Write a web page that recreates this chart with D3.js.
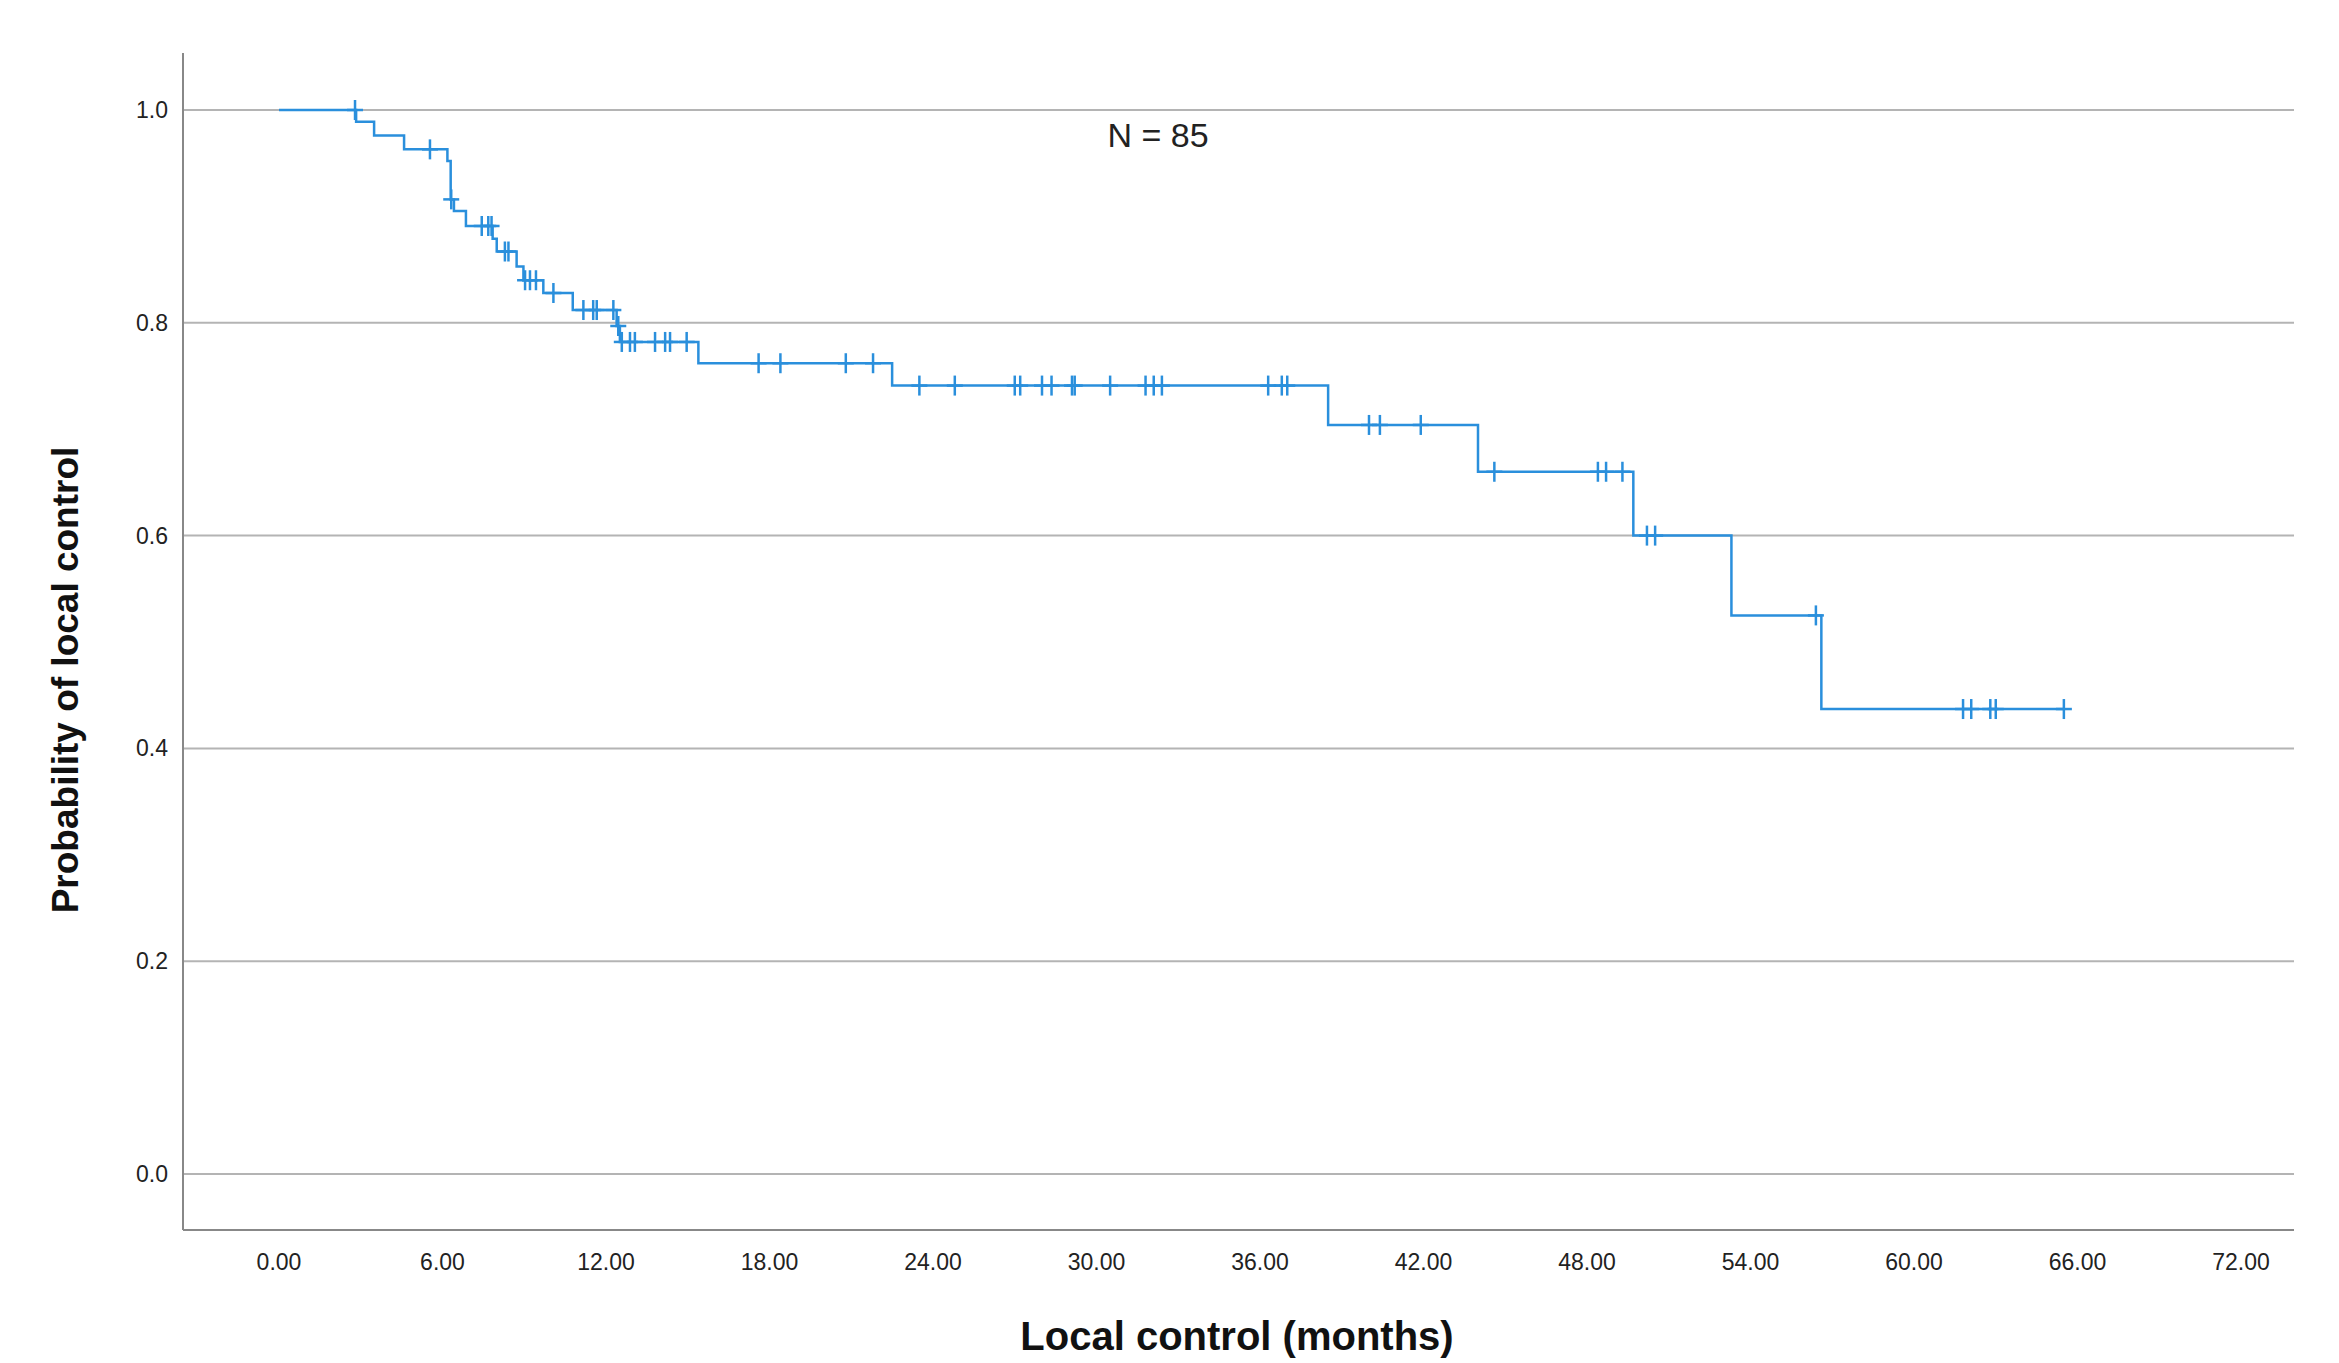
<!DOCTYPE html>
<html>
<head>
<meta charset="utf-8">
<script src="https://cdn.jsdelivr.net/npm/d3@7"></script>
<style>
  body { margin: 0; background: #fff; }
  text { font-family: "Liberation Sans Narrow", "Liberation Sans", Arial, sans-serif; }
</style>
</head>
<body>
<div id="chart"></div>
<script>
// step drops: time (months) and survival after drop
const dropTimes = [2.83, 3.49, 4.59, 6.18, 6.30, 6.42, 6.86, 7.84, 7.99, 8.72, 8.97, 9.70, 10.78, 12.39, 12.51, 15.39,
  22.5, 38.5, 44.0, 49.7, 53.3, 56.6];
const dropValues = [0.989, 0.976, 0.963, 0.952, 0.916, 0.905, 0.891, 0.879, 0.867, 0.853, 0.840, 0.828, 0.812, 0.797, 0.782, 0.762,
  0.741, 0.704, 0.660, 0.600, 0.525, 0.437];
const censorTimes = [2.79, 5.54, 6.32, 7.44, 7.68, 7.80, 8.29, 8.42, 9.03, 9.21, 9.43, 10.07, 11.17, 11.53, 11.66, 12.27,
  12.45, 12.58, 12.88, 13.06, 13.80, 14.17, 14.35, 14.96, 17.6, 18.4, 20.8, 21.8, 23.5, 24.8, 27.0, 27.2, 28.0, 28.35,
  29.1, 29.2, 30.5, 31.8, 32.1, 32.4, 36.3, 36.8, 37.0, 40.0, 40.4, 41.9, 44.6, 48.4, 48.7, 49.3, 50.2, 50.5, 56.4,
  61.8, 62.1, 62.8, 63.0, 65.5];
const endTime = 65.5;
const xTicks = [0, 6, 12, 18, 24, 30, 36, 42, 48, 54, 60, 66, 72];
const yTicks = [0, 0.2, 0.4, 0.6, 0.8, 1.0];

const W = 2339, H = 1363;
const svg = d3.select('#chart').append('svg').attr('width', W).attr('height', H);

const x = d3.scaleLinear().domain([0, 72]).range([279, 2241]);
const y = d3.scaleLinear().domain([0, 1]).range([1174, 110]);
const frameL = 183, frameR = 2294, frameT = 53, frameB = 1230;

const surv = (t) => {
  let v = 1;
  dropTimes.forEach((d, i) => { if (d <= t) v = dropValues[i]; });
  return v;
};

// grid lines
svg.selectAll('.grid').data(yTicks).enter().append('line')
  .attr('x1', frameL).attr('x2', frameR)
  .attr('y1', (d) => y(d)).attr('y2', (d) => y(d))
  .attr('stroke', '#b4b4b4').attr('stroke-width', 2);

// axes frame
svg.append('line').attr('x1', frameL).attr('x2', frameL).attr('y1', frameT).attr('y2', frameB)
  .attr('stroke', '#888').attr('stroke-width', 2);
svg.append('line').attr('x1', frameL).attr('x2', frameR).attr('y1', frameB).attr('y2', frameB)
  .attr('stroke', '#888').attr('stroke-width', 2);

svg.selectAll('.ylab').data(yTicks).enter().append('text')
  .attr('x', 168).attr('y', (d) => y(d) + 8)
  .attr('text-anchor', 'end').attr('font-size', 23).attr('fill', '#222')
  .text((d) => d.toFixed(1));

svg.selectAll('.xlab').data(xTicks).enter().append('text')
  .attr('x', (d) => x(d)).attr('y', 1270)
  .attr('text-anchor', 'middle').attr('font-size', 23).attr('fill', '#222')
  .text((d) => d.toFixed(2));

svg.append('text').attr('x', 1237).attr('y', 1350).attr('text-anchor', 'middle')
  .attr('font-size', 40).attr('font-weight', 'bold').attr('fill', '#111')
  .attr('font-family', '"Liberation Sans", Arial, sans-serif')
  .text('Local control (months)');

svg.append('text').attr('transform', 'translate(78,680) rotate(-90)').attr('text-anchor', 'middle')
  .attr('font-size', 37).attr('font-weight', 'bold').attr('fill', '#111')
  .attr('font-family', '"Liberation Sans", Arial, sans-serif')
  .text('Probability of local control');

svg.append('text').attr('x', 1158).attr('y', 147).attr('text-anchor', 'middle')
  .attr('font-size', 34).attr('fill', '#222').text('N = 85');

// KM curve
const pts = [{t: 0, v: 1}];
dropTimes.forEach((d, i) => pts.push({t: d, v: dropValues[i]}));
pts.push({t: endTime, v: dropValues[dropValues.length - 1]});
const line = d3.line().x((d) => x(d.t)).y((d) => y(d.v)).curve(d3.curveStepAfter);
svg.append('path').attr('d', line(pts)).attr('fill', 'none')
  .attr('stroke', '#2a8fdc').attr('stroke-width', 2.5);

// censor marks
const cg = svg.selectAll('.cens').data(censorTimes).enter().append('g')
  .attr('transform', (d) => `translate(${x(d)},${y(surv(d))})`);
cg.append('line').attr('y1', -10).attr('y2', 10).attr('stroke', '#2a8fdc').attr('stroke-width', 2.5);
cg.append('line').attr('x1', -8).attr('x2', 8).attr('stroke', '#2a8fdc').attr('stroke-width', 2.5);
</script>
</body>
</html>
